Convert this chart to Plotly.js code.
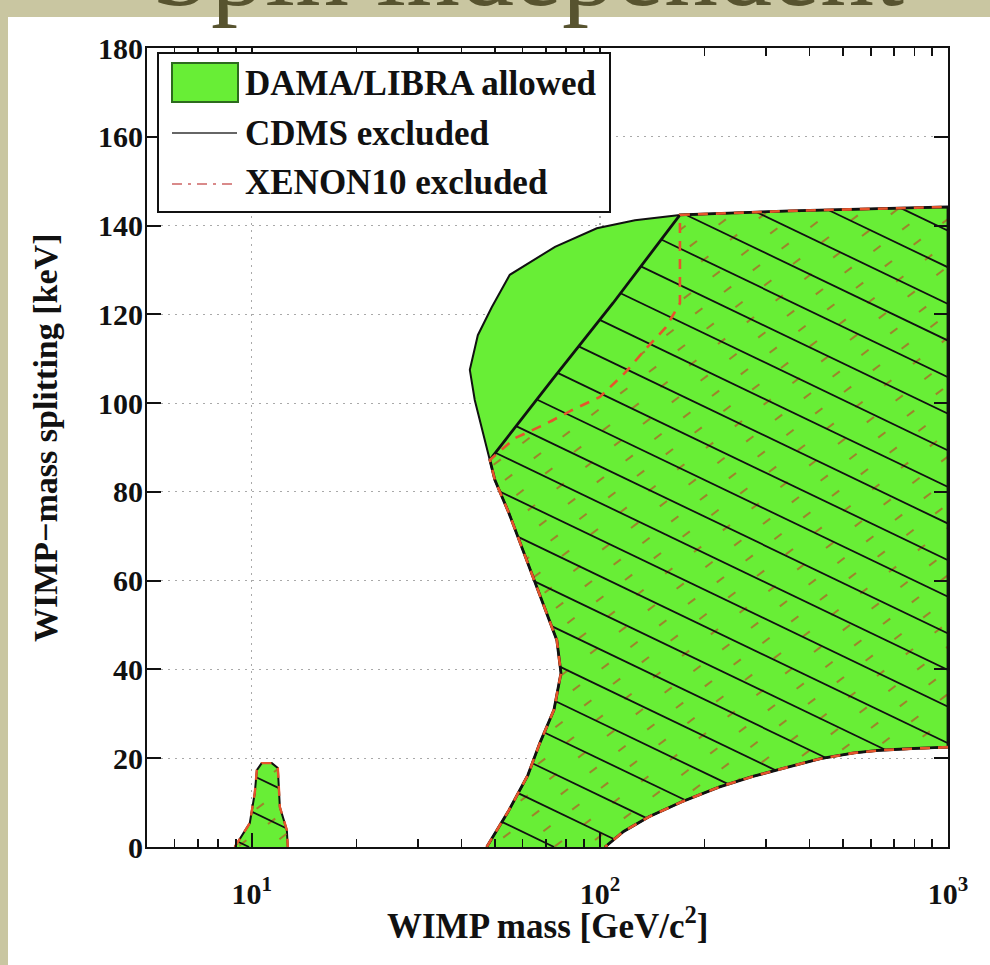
<!DOCTYPE html>
<html>
<head>
<meta charset="utf-8">
<script src="https://cdn.plot.ly/plotly-3.0.1.min.js"></script>
<style>
html,body{margin:0;padding:0;background:#ffffff;}
#chart{width:990px;height:965px;}
</style>
</head>
<body>
<div id="chart"></div>
<script>
// ---------------- data ----------------
// WIMP mass [GeV/c^2] and WIMP-mass splitting [keV]
// lower-left "waist" boundary shared by DAMA, CDMS and XENON10 (from 0 keV up to the junction)
const waistMass  = [47.3, 54.8, 62.1, 67.2, 73.8, 77.3, 75.2, 68.6, 61.3, 54.8, 49.9, 48.3];
const waistSplit = [0, 8.3, 16.2, 23.4, 30.9, 39.2, 46.6, 55.0, 65.3, 75.2, 82.7, 87.2];
// DAMA/LIBRA upper-left lobe (not excluded)
const lobeMass  = [46.7, 43.7, 42.3, 44.6, 48.9, 55.1, 74.3, 98.0, 126.1];
const lobeSplit = [91.7, 100.7, 107.5, 115.3, 121.6, 128.9, 135.2, 139.4, 141.2];
// top edge
const topMass  = [169.8, 351.6, 1000];
const topSplit = [142.4, 143.3, 144.2];
// lower right boundary (from the right edge down to 0 keV)
const lowerMass  = [1000, 800, 640, 537, 430, 346.7, 275, 219.8, 172, 138.3, 117, 103.4];
const lowerSplit = [22.5, 22.2, 21.8, 21.2, 19.9, 18.0, 15.9, 13.5, 10.2, 6.8, 3.5, 0];
// CDMS exclusion contour (diagonal part)
const cdmsMass  = [48.3, 72.8, 109.0, 169.8];
const cdmsSplit = [87.2, 105.2, 122.5, 142.4];
// XENON10 exclusion contour (inner part)
const xenonMass  = [48.3, 57.0, 69.0, 83.1, 100, 118.0, 134.7, 154.8, 169.8, 169.8];
const xenonSplit = [87.2, 92.1, 95.1, 98.4, 101.4, 106.8, 112.0, 117.1, 122.5, 142.4];
// small DAMA island near 10 GeV
const islandMass  = [8.93, 9.87, 10.2, 10.34, 10.68, 11.41, 11.88, 12.04, 12.61, 12.69];
const islandSplit = [0, 5.4, 12.2, 17.3, 18.9, 18.9, 17.8, 9.0, 3.8, 0];
// ticks
const majorMass   = [10, 100, 1000];
const majorLabels = ['10<sup>1</sup>', '10<sup>2</sup>', '10<sup>3</sup>'];
const minorMass   = [5,6,7,8,9,20,30,40,50,60,70,80,90,200,300,400,500,600,700,800,900];
const splitTicks  = [0,20,40,60,80,100,120,140,160,180];
const legendLabels = ['DAMA/LIBRA allowed', 'CDMS excluded', 'XENON10 excluded'];
const xTitle = 'WIMP mass [GeV/c<sup>2</sup>]';
const yTitle = 'WIMP\u2212mass splitting [keV]';
const slideTitle = 'Spin independent';

// ---------------- geometry helpers ----------------
const W = 990, H = 965, ML = 147, MR = 42, MT = 48, MB = 118;
const PW = W - ML - MR, PH = H - MT - MB;
const XR = [Math.log10(5), 3], YR = [0, 180];
function toPx(m, s) {
  return [ML + (Math.log10(m) - XR[0]) / (XR[1] - XR[0]) * PW,
          MT + (YR[1] - s) / (YR[1] - YR[0]) * PH];
}
function fromPx(px, py) {
  return [Math.pow(10, XR[0] + (px - ML) / PW * (XR[1] - XR[0])),
          YR[1] - (py - MT) / PH * (YR[1] - YR[0])];
}
function PXx(px) { return (px - ML) / PW; }
function PYy(py) { return (MT + PH - py) / PH; }

const damaM = waistMass.concat(lobeMass, topMass, lowerMass);
const damaS = waistSplit.concat(lobeSplit, topSplit, lowerSplit);
const cdmsM = waistMass.concat(cdmsMass.slice(1), topMass.slice(1), lowerMass);
const cdmsS = waistSplit.concat(cdmsSplit.slice(1), topSplit.slice(1), lowerSplit);
const xenM  = waistMass.concat(xenonMass.slice(1), topMass.slice(1), lowerMass);
const xenS  = waistSplit.concat(xenonSplit.slice(1), topSplit.slice(1), lowerSplit);
const xenLineM = waistMass.concat(xenonMass.slice(1), topMass.slice(1), [null], lowerMass);
const xenLineS = waistSplit.concat(xenonSplit.slice(1), topSplit.slice(1), [null], lowerSplit);

function polyPx(ms, ss) { return ms.map((m, i) => toPx(m, ss[i])); }

// parallel hatch lines (optionally dashed) clipped to polygons, computed in pixel space
function hatch(polys, dir, step, anchor, dash, gap) {
  const L = Math.hypot(dir[0], dir[1]);
  const d = [dir[0] / L, dir[1] / L];
  const n = [-d[1], d[0]];
  const dot = (u, v) => u[0] * v[0] + u[1] * v[1];
  const c0 = dot(n, anchor), sA = dot(d, anchor);
  let cmin = Infinity, cmax = -Infinity;
  polys.forEach(P => P.forEach(p => { const c = dot(n, p); cmin = Math.min(cmin, c); cmax = Math.max(cmax, c); }));
  const xs = [], ys = [];
  const at = (c, s) => [n[0] * c + d[0] * s, n[1] * c + d[1] * s];
  const push = (a, b) => {
    const A = fromPx(a[0], a[1]), B = fromPx(b[0], b[1]);
    xs.push(A[0], B[0], null); ys.push(A[1], B[1], null);
  };
  for (let k = Math.ceil((cmin - c0) / step); k <= Math.floor((cmax - c0) / step); k++) {
    const c = c0 + k * step;
    const ts = [];
    polys.forEach(P => {
      for (let i = 0; i < P.length; i++) {
        const a = P[i], b = P[(i + 1) % P.length];
        const fa = dot(n, a) - c, fb = dot(n, b) - c;
        if ((fa < 0) !== (fb < 0)) {
          const t = fa / (fa - fb);
          ts.push(dot(d, [a[0] + t * (b[0] - a[0]), a[1] + t * (b[1] - a[1])]));
        }
      }
    });
    ts.sort((u, v) => u - v);
    for (let j = 0; j + 1 < ts.length; j += 2) {
      const s0 = ts[j], s1 = ts[j + 1];
      if (!dash) { push(at(c, s0), at(c, s1)); continue; }
      const per = dash + gap;
      for (let q = sA + Math.floor((s0 - sA) / per) * per; q < s1; q += per) {
        const a = Math.max(q, s0), b = Math.min(q + dash, s1);
        if (b > a) push(at(c, a), at(c, b));
      }
    }
  }
  return {x: xs, y: ys};
}

const cdmsPolys = [polyPx(cdmsM, cdmsS), polyPx(islandMass, islandSplit)];
const xenPolys  = [polyPx(xenM, xenS), polyPx(islandMass, islandSplit)];
const cdmsHatch = hatch(cdmsPolys, [1, 0.48], 33.0, [948, 487], 0, 0);
const xenHatch  = hatch(xenPolys, [1, -0.75], 19, [700, 500], 9, 27);

const GREEN = '#68ee36';

const traces = [
  {x: damaM, y: damaS, type: 'scatter', mode: 'lines', fill: 'toself', fillcolor: GREEN,
   line: {color: '#111', width: 2}, hoverinfo: 'skip', showlegend: false},
  {x: islandMass, y: islandSplit, type: 'scatter', mode: 'lines', fill: 'toself', fillcolor: GREEN,
   line: {color: '#111', width: 2}, hoverinfo: 'skip', showlegend: false},
  {x: xenHatch.x, y: xenHatch.y, type: 'scatter', mode: 'lines', connectgaps: false,
   line: {color: 'rgba(175,95,40,0.75)', width: 2}, hoverinfo: 'skip', showlegend: false},
  {x: cdmsHatch.x, y: cdmsHatch.y, type: 'scatter', mode: 'lines', connectgaps: false,
   line: {color: '#111', width: 1.8}, hoverinfo: 'skip', showlegend: false},
  {x: cdmsM, y: cdmsS, type: 'scatter', mode: 'lines', line: {color: '#111', width: 2.8},
   hoverinfo: 'skip', showlegend: false},
  {x: xenLineM, y: xenLineS, type: 'scatter', mode: 'lines', connectgaps: false,
   line: {color: '#e5542c', width: 2.6, dash: '10px,8px'}, hoverinfo: 'skip', showlegend: false},
  {x: islandMass, y: islandSplit, type: 'scatter', mode: 'lines',
   line: {color: '#e5542c', width: 2.4, dash: '10px,8px'}, hoverinfo: 'skip', showlegend: false}
];

const FONT = 'Liberation Serif, Times New Roman, serif';
const shapes = [
  {type: 'rect', xref: 'paper', yref: 'paper', x0: PXx(0), x1: PXx(990), y0: PYy(0), y1: PYy(17),
   fillcolor: '#c9c6a1', line: {width: 0}, layer: 'below'},
  {type: 'rect', xref: 'paper', yref: 'paper', x0: PXx(0), x1: PXx(8), y0: PYy(0), y1: PYy(965),
   fillcolor: '#c9c6a1', line: {width: 0}, layer: 'below'},
  // legend
  {type: 'rect', xref: 'paper', yref: 'paper', x0: PXx(158), x1: PXx(610), y0: PYy(212), y1: PYy(53),
   fillcolor: '#ffffff', line: {color: '#111', width: 2}, layer: 'above'},
  {type: 'rect', xref: 'paper', yref: 'paper', x0: PXx(172), x1: PXx(238), y0: PYy(102), y1: PYy(63),
   fillcolor: GREEN, line: {color: '#2d6b1e', width: 2}, layer: 'above'},
  {type: 'line', xref: 'paper', yref: 'paper', x0: PXx(172), x1: PXx(237), y0: PYy(133), y1: PYy(133),
   line: {color: '#333', width: 1.5}, layer: 'above'},
  {type: 'line', xref: 'paper', yref: 'paper', x0: PXx(172), x1: PXx(237), y0: PYy(184), y1: PYy(184),
   line: {color: '#d98a8a', width: 2, dash: '10px,6px,3px,6px'}, layer: 'above'}
];
const annotations = [
  {text: slideTitle, xref: 'paper', yref: 'paper', x: PXx(527), y: PYy(30),
   xanchor: 'center', yanchor: 'bottom', showarrow: false,
   font: {family: FONT, size: 108, color: '#57532f'}},
  {text: xTitle, xref: 'paper', yref: 'paper', x: PXx(547), y: PYy(923),
   xanchor: 'center', yanchor: 'middle', showarrow: false,
   font: {family: FONT, size: 35, weight: 700, color: '#111'}},
  {text: yTitle, xref: 'paper', yref: 'paper', x: PXx(45), y: PYy(438), textangle: -90,
   xanchor: 'center', yanchor: 'middle', showarrow: false,
   font: {family: FONT, size: 34, weight: 700, color: '#111'}}
].concat(legendLabels.map((t, i) => ({
  text: t, xref: 'paper', yref: 'paper', x: PXx(243), y: PYy(83 + 50 * i),
  xanchor: 'left', yanchor: 'middle', showarrow: false,
  font: {family: FONT, size: 35, weight: 700, color: '#111'}
})));

const axisCommon = {
  showline: true, linecolor: '#111', linewidth: 2, mirror: 'ticks',
  ticks: 'inside', ticklen: 14, tickwidth: 2, tickcolor: '#111',
  showgrid: true, gridcolor: '#a9a9a9', gridwidth: 1.2, griddash: '2px,5px',
  zeroline: false, fixedrange: true,
  tickfont: {family: FONT, size: 30, weight: 700, color: '#111'}
};

const layout = {
  width: W, height: H,
  margin: {l: ML, r: MR, t: MT, b: MB, pad: 0},
  paper_bgcolor: '#ffffff', plot_bgcolor: '#ffffff',
  showlegend: false,
  font: {family: FONT, color: '#111'},
  xaxis: Object.assign({}, axisCommon, {
    type: 'log', range: XR, tickmode: 'array', tickvals: majorMass, ticktext: majorLabels,
    ticklabelstandoff: 19,
    minor: {tickmode: 'array', tickvals: minorMass, ticks: 'inside', ticklen: 8, tickwidth: 1.5,
            tickcolor: '#111', showgrid: false}
  }),
  yaxis: Object.assign({}, axisCommon, {
    range: YR, tickmode: 'array', tickvals: splitTicks,
    ticklabelstandoff: -4
  }),
  shapes: shapes,
  annotations: annotations
};

Plotly.newPlot('chart', traces, layout, {staticPlot: true, displayModeBar: false});
</script>
</body>
</html>
